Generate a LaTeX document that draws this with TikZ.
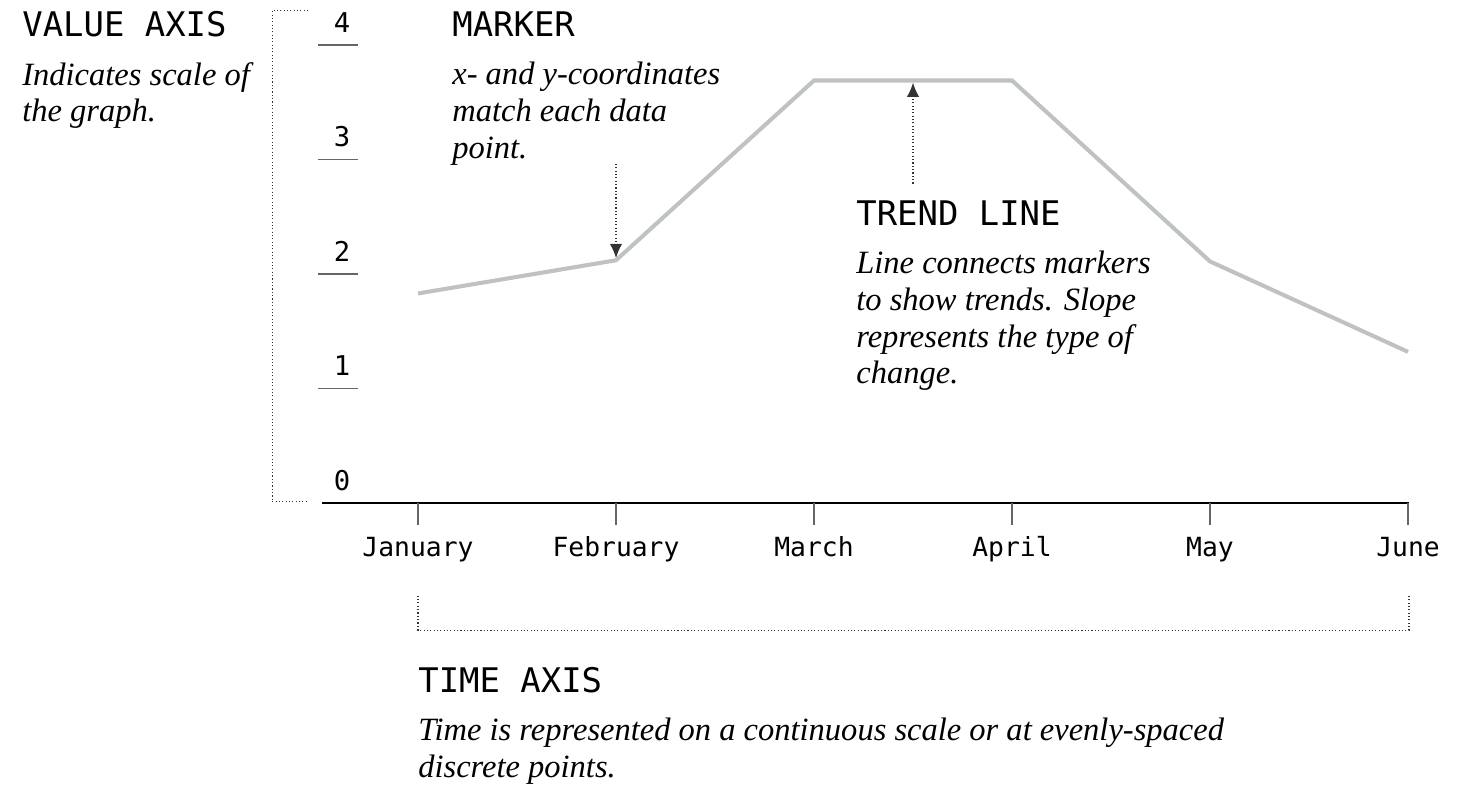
\documentclass[tikz,border=0pt]{standalone}
\usepackage{fontspec}
\setmainfont{Liberation Serif}
\setmonofont{DejaVu Sans Mono}
\usetikzlibrary{calc,arrows.meta,positioning}
\definecolor{trendgray}{HTML}{BEC2C0}
\tikzset{
	>={Latex[length=8pt,width=7pt]},
	heading/.style={
		font=\ttfamily\fontsize{19.3}{23}\selectfont,
		inner sep=0pt,
		anchor=base west
	},
	blurb/.style={
		font=\itshape\fontsize{18.5}{21}\selectfont,
		align=left,
		inner sep=0pt
	},
	guide/.style={
		draw=black!80,
		line width=0.6pt,
		dash pattern=on 0.6pt off 1.3pt
	},
	trend/.style={draw=trendgray, line width=2.3pt},
	axisline/.style={draw=black, line width=1.6pt},
	monthtick/.style={draw=black!60, line width=0.9pt},
	valtick/.style={draw=black!60, line width=0.9pt},
	monthlabel/.style={font=\ttfamily\fontsize{15}{17}\selectfont, anchor=base, inner sep=0pt},
	vallabel/.style={font=\ttfamily\fontsize{15.5}{17}\selectfont, anchor=base, inner sep=0pt}
}

\begin{document}
\begin{tikzpicture}
	\useasboundingbox (0,0) rectangle (29.3,-15.76);

	% chart: one unit per month across, one unit per value step up
	\begin{scope}[shift={(8.36,-10.06)}, x=3.96cm, y=2.29cm]
		\coordinate (jan) at (0,1.83);
		\coordinate (feb) at (1,2.12);
		\coordinate (mar) at (2,3.69);
		\coordinate (apr) at (3,3.69);
		\coordinate (may) at (4,2.11);
		\coordinate (jun) at (5,1.32);

		\draw [axisline] (-0.485,0) -- (5.005,0);
		\foreach \m [count=\i from 0] in {January,February,March,April,May,June} {
			\draw [monthtick] (\i,0) -- (\i,-0.19);
			\node [monthlabel] (month\i) at (\i,-0.47) {\m};
		}
		\foreach \v in {1,...,4}
			\draw [valtick] (-0.505,\v) -- (-0.305,\v);
		\foreach \v in {0,...,4}
			\node [vallabel] (value\v) at (-0.384,\v+0.113) {\v};

		\draw [trend] (jan) -- (feb) -- (mar) -- (apr) -- (may) -- (jun);

		% brackets around the two axes
		\draw [guide] (-0.555,4.30) -| (-0.737,0.01) -- (-0.555,0.01);
		\draw [guide] (0,-0.81) |- (5.005,-1.11) -- (5.005,-0.81);

		\coordinate (marktail) at (1,2.96);
		\coordinate (trendtail) at (2.5,2.79);
		\coordinate (trendtip) at ($(mar)!0.5!(apr)$);
		\draw [guide, ->, shorten >=1.3pt] (marktail) -- (feb);
		\draw [guide, ->, shorten >=1.3pt] (trendtail) -- (trendtip);
	\end{scope}

	\node [heading] (valuehead) at (0.44,-0.72) {VALUE AXIS};
	\node [blurb, below=0.5cm of valuehead.south west, anchor=north west] (valueblurb) {Indicates scale of\\the graph.};

	\node [heading] (markerhead) at (9.04,-0.72) {MARKER};
	\node [blurb, below=0.5cm of markerhead.south west, anchor=north west] (markerblurb) {x- and y-coordinates\\match each data\\point.};

	\node [heading] (trendhead) at (17.12,-4.5) {TREND LINE};
	\node [blurb, below=0.5cm of trendhead.south west, anchor=north west] (trendblurb) {Line connects markers\\to show trends. Slope\\represents the type of\\change.};

	\node [heading] (timehead) at (8.36,-13.84) {TIME AXIS};
	\node [blurb, below=0.5cm of timehead.south west, anchor=north west] (timeblurb) {Time is represented on a continuous scale or at evenly-spaced\\discrete points.};
\end{tikzpicture}
\end{document}
